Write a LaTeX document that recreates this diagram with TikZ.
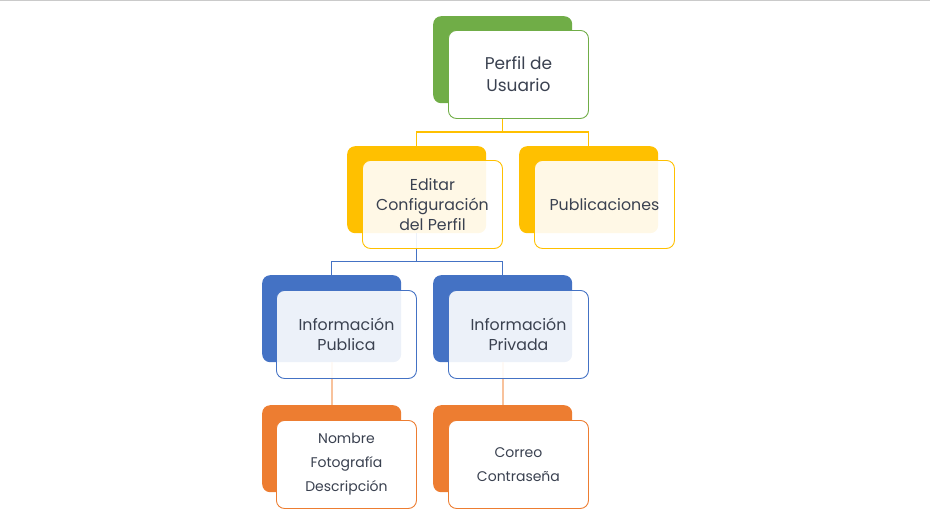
\documentclass[tikz,border=0pt]{standalone}
\usepackage{fontspec}
\setmainfont{Poppins}
\usepackage{xcolor}
\usepackage{tikz}
\usetikzlibrary{positioning}
\definecolor{verde}{HTML}{70AD47}
\definecolor{amarillo}{HTML}{FFC000}
\definecolor{azul}{HTML}{4472C4}
\definecolor{naranja}{HTML}{ED7D31}
\definecolor{durazno}{HTML}{F8C29C}
\definecolor{texto}{HTML}{3A4150}
\definecolor{borde}{HTML}{CACACA}

\begin{document}
\begin{tikzpicture}[x=1pt,y=-1pt,
	back/.style={rounded corners=8pt,minimum width=139pt,minimum height=87pt,inner sep=0pt,anchor=north west},
	front/.style={rounded corners=8pt,minimum width=140pt,minimum height=88pt,inner sep=0pt,anchor=north west,
		draw,line width=0.9pt,fill=white,text=texto,align=center},
	glass/.style={fill opacity=0.9,text opacity=1},
	con/.style={line width=1.3pt}]
	\useasboundingbox (0,0) rectangle (930,523);
	\draw[borde,line width=1.2pt] (0,0.6) -- (930,0.6);
	% cajas de fondo
	\node[back,fill=verde] (perfilB) at (433,16) {};
	\node[back,fill=amarillo] (editarB) at (347,146) {};
	\node[back,fill=amarillo] (pubB) at (519,146) {};
	\node[back,fill=azul] (infpubB) at (262,275) {};
	\node[back,fill=azul] (infprivB) at (433,275) {};
	\node[back,fill=naranja] (nombreB) at (262,405) {};
	\node[back,fill=naranja] (correoB) at (433,405) {};
	% conectores
	\coordinate (bus1) at (0,132);
	\coordinate (bus2) at (0,261.5);
	\draw[con,amarillo] (perfilB.south) -- (perfilB.south |- bus1) -| (editarB.north);
	\draw[con,amarillo] (perfilB.south |- bus1) -| (pubB.north);
	\draw[con,azul] (editarB.south) -- (editarB.south |- bus2) -| (infpubB.north);
	\draw[con,azul] (editarB.south |- bus2) -| (infprivB.north);
	\draw[con,durazno,line width=2pt] (infpubB.south) -- (nombreB.north);
	\draw[con,durazno,line width=2pt] (infprivB.south) -- (correoB.north);
	% cajas de frente
	\node[front,draw=verde,font=\fontsize{17}{22}\selectfont] (perfil) at ([shift={(15,14)}]perfilB.north west) {Perfil de\\Usuario};
	\node[front,glass,draw=amarillo,font=\fontsize{15.8}{20}\selectfont] (editar) at ([shift={(15,14)}]editarB.north west) {Editar\\Configuración\\del Perfil};
	\node[front,glass,draw=amarillo,font=\fontsize{15.8}{20}\selectfont] (pub) at ([shift={(15,14)}]pubB.north west) {Publicaciones};
	\node[front,glass,draw=azul,font=\fontsize{15.8}{20}\selectfont] (infpub) at ([shift={(14,15)}]infpubB.north west) {Información\\Publica};
	\node[front,glass,draw=azul,font=\fontsize{15.8}{20}\selectfont] (infpriv) at ([shift={(15,15)}]infprivB.north west) {Información\\Privada};
	\node[front,draw=naranja,font=\fontsize{14}{24}\selectfont] (nombre) at ([shift={(14,15)}]nombreB.north west) {Nombre\\Fotografía\\Descripción};
	\node[front,draw=naranja,font=\fontsize{14}{24}\selectfont] (correo) at ([shift={(15,15)}]correoB.north west) {Correo\\Contraseña};
\end{tikzpicture}
\end{document}
